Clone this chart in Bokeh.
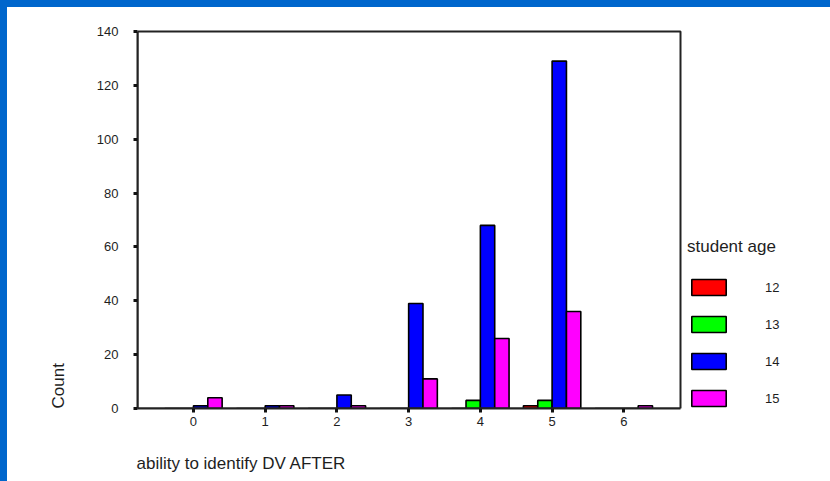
from bokeh.plotting import figure
from bokeh.models import Legend, LegendItem, FixedTicker, Range1d, Title, BoxAnnotation
from bokeh.embed import file_html
from bokeh.resources import INLINE
from bokeh.core.templates import get_env

# ---- data ----
categories = [0, 1, 2, 3, 4, 5, 6]
age_labels = ["12", "13", "14", "15"]
age12 = [0, 0, 0, 0, 0, 1, 0]
age13 = [0, 0, 0, 0, 3, 3, 0]
age14 = [1, 1, 5, 39, 68, 129, 0]
age15 = [4, 1, 1, 11, 26, 36, 1]
y_ticks = [0, 20, 40, 60, 80, 100, 120, 140]

series = [age12, age13, age14, age15]
colors = ["#FF0000", "#00FF00", "#0000FF", "#FF00FF"]
offsets = [-0.3, -0.1, 0.1, 0.3]
FONT = "Liberation Sans"
TXT = "#1e1e1e"

PAD = 7
W, H = 830 - PAD, 481 - PAD
# page-pixel geometry of the visible plot box
BOX_L, BOX_T, BOX_R, BOX_B = 137, 31, 680, 408
FRAME_T, FRAME_R = 29, 820
ML, MT = BOX_L - PAD, FRAME_T - PAD
MR, MB = 830 - FRAME_R, 481 - BOX_B
X0, X1 = -0.78, 6.79
Y0, Y1 = 0, 140
ppx = (BOX_R - BOX_L) / (X1 - X0)
ppy = (BOX_B - BOX_T) / (Y1 - Y0)
XE = X0 + (FRAME_R - BOX_L) / ppx
YE = Y0 + (BOX_B - FRAME_T) / ppy

p = figure(width=W, height=H, output_backend="svg", toolbar_location=None,
           x_range=Range1d(X0, XE), y_range=Range1d(Y0, YE),
           min_border_left=ML, min_border_right=MR, min_border_top=MT, min_border_bottom=MB)
p.background_fill_color = "white"
p.border_fill_color = "white"
p.outline_line_color = None
p.xgrid.visible = False
p.ygrid.visible = False

renderers = []
for vals, col, off in zip(series, colors, offsets):
    xs = [c + off for c in categories]
    r = p.vbar(x=xs, top=vals, width=0.2, bottom=0, fill_color=col,
               line_color="black", line_width=1.6)
    renderers.append(r)

# plot box (top and right edges)
p.add_layout(BoxAnnotation(left=X0, right=X1, bottom=Y0, top=Y1, fill_alpha=0,
                           line_color="#222222", line_alpha=1.0, line_width=2))

for ax in (p.xaxis[0], p.yaxis[0]):
    ax.axis_line_width = 2
    ax.axis_line_color = "#222222"
    ax.major_tick_in = 0
    ax.major_tick_out = 4
    ax.major_tick_line_width = 3
    ax.major_tick_line_color = "#111111"
    ax.minor_tick_line_color = None
    ax.major_label_text_font = FONT
    ax.major_label_text_font_size = "13px"
    ax.major_label_text_color = TXT

p.xaxis.ticker = FixedTicker(ticks=categories)
p.yaxis.ticker = FixedTicker(ticks=y_ticks)
p.xaxis.bounds = (X0, X1)
p.yaxis.bounds = (Y0, Y1)
p.xaxis.major_label_standoff = 4
p.yaxis.major_label_standoff = 15

# axis titles
count_title = Title(text="Count", align="left", offset=0, standoff=51,
                    text_font=FONT, text_font_size="17px", text_font_style="normal",
                    text_color=TXT)
p.add_layout(count_title, "left")
spacer = Title(text=".", text_font=FONT, text_font_size="4px", text_color="white", standoff=18)
p.add_layout(spacer, "below")
x_title = Title(text="ability to identify DV AFTER", align="left", offset=-1, standoff=0,
                text_font=FONT, text_font_size="17px", text_font_style="normal",
                text_color=TXT)
p.add_layout(x_title, "below")

legend = Legend(items=[LegendItem(label=lab, renderers=[r]) for lab, r in zip(age_labels, renderers)],
                title="student age", location=(687 - BOX_L, 0))
legend.title_text_font = FONT
legend.title_text_font_size = "17px"
legend.title_text_font_style = "normal"
legend.title_text_color = TXT
legend.title_standoff = 20
legend.label_text_font = FONT
legend.label_text_font_size = "13px"
legend.label_text_color = TXT
legend.glyph_width = 43
legend.glyph_height = 20
legend.label_standoff = 35
legend.spacing = 17
legend.padding = 0
legend.margin = 0
legend.border_line_color = None
legend.background_fill_alpha = 0
p.add_layout(legend, "center")

template = get_env().from_string(
    '{% extends "file.html" %}'
    '{% block postamble %}<style>html, body { background: #ffffff; margin: 0; padding: 0; }'
    ' body { border-left: ' + str(PAD) + 'px solid #0066CC; border-top: ' + str(PAD) +
    'px solid #0066CC; overflow: hidden; }</style>{% endblock %}'
)
open("out.html", "w").write(file_html(p, INLINE, title="chart", template=template))
